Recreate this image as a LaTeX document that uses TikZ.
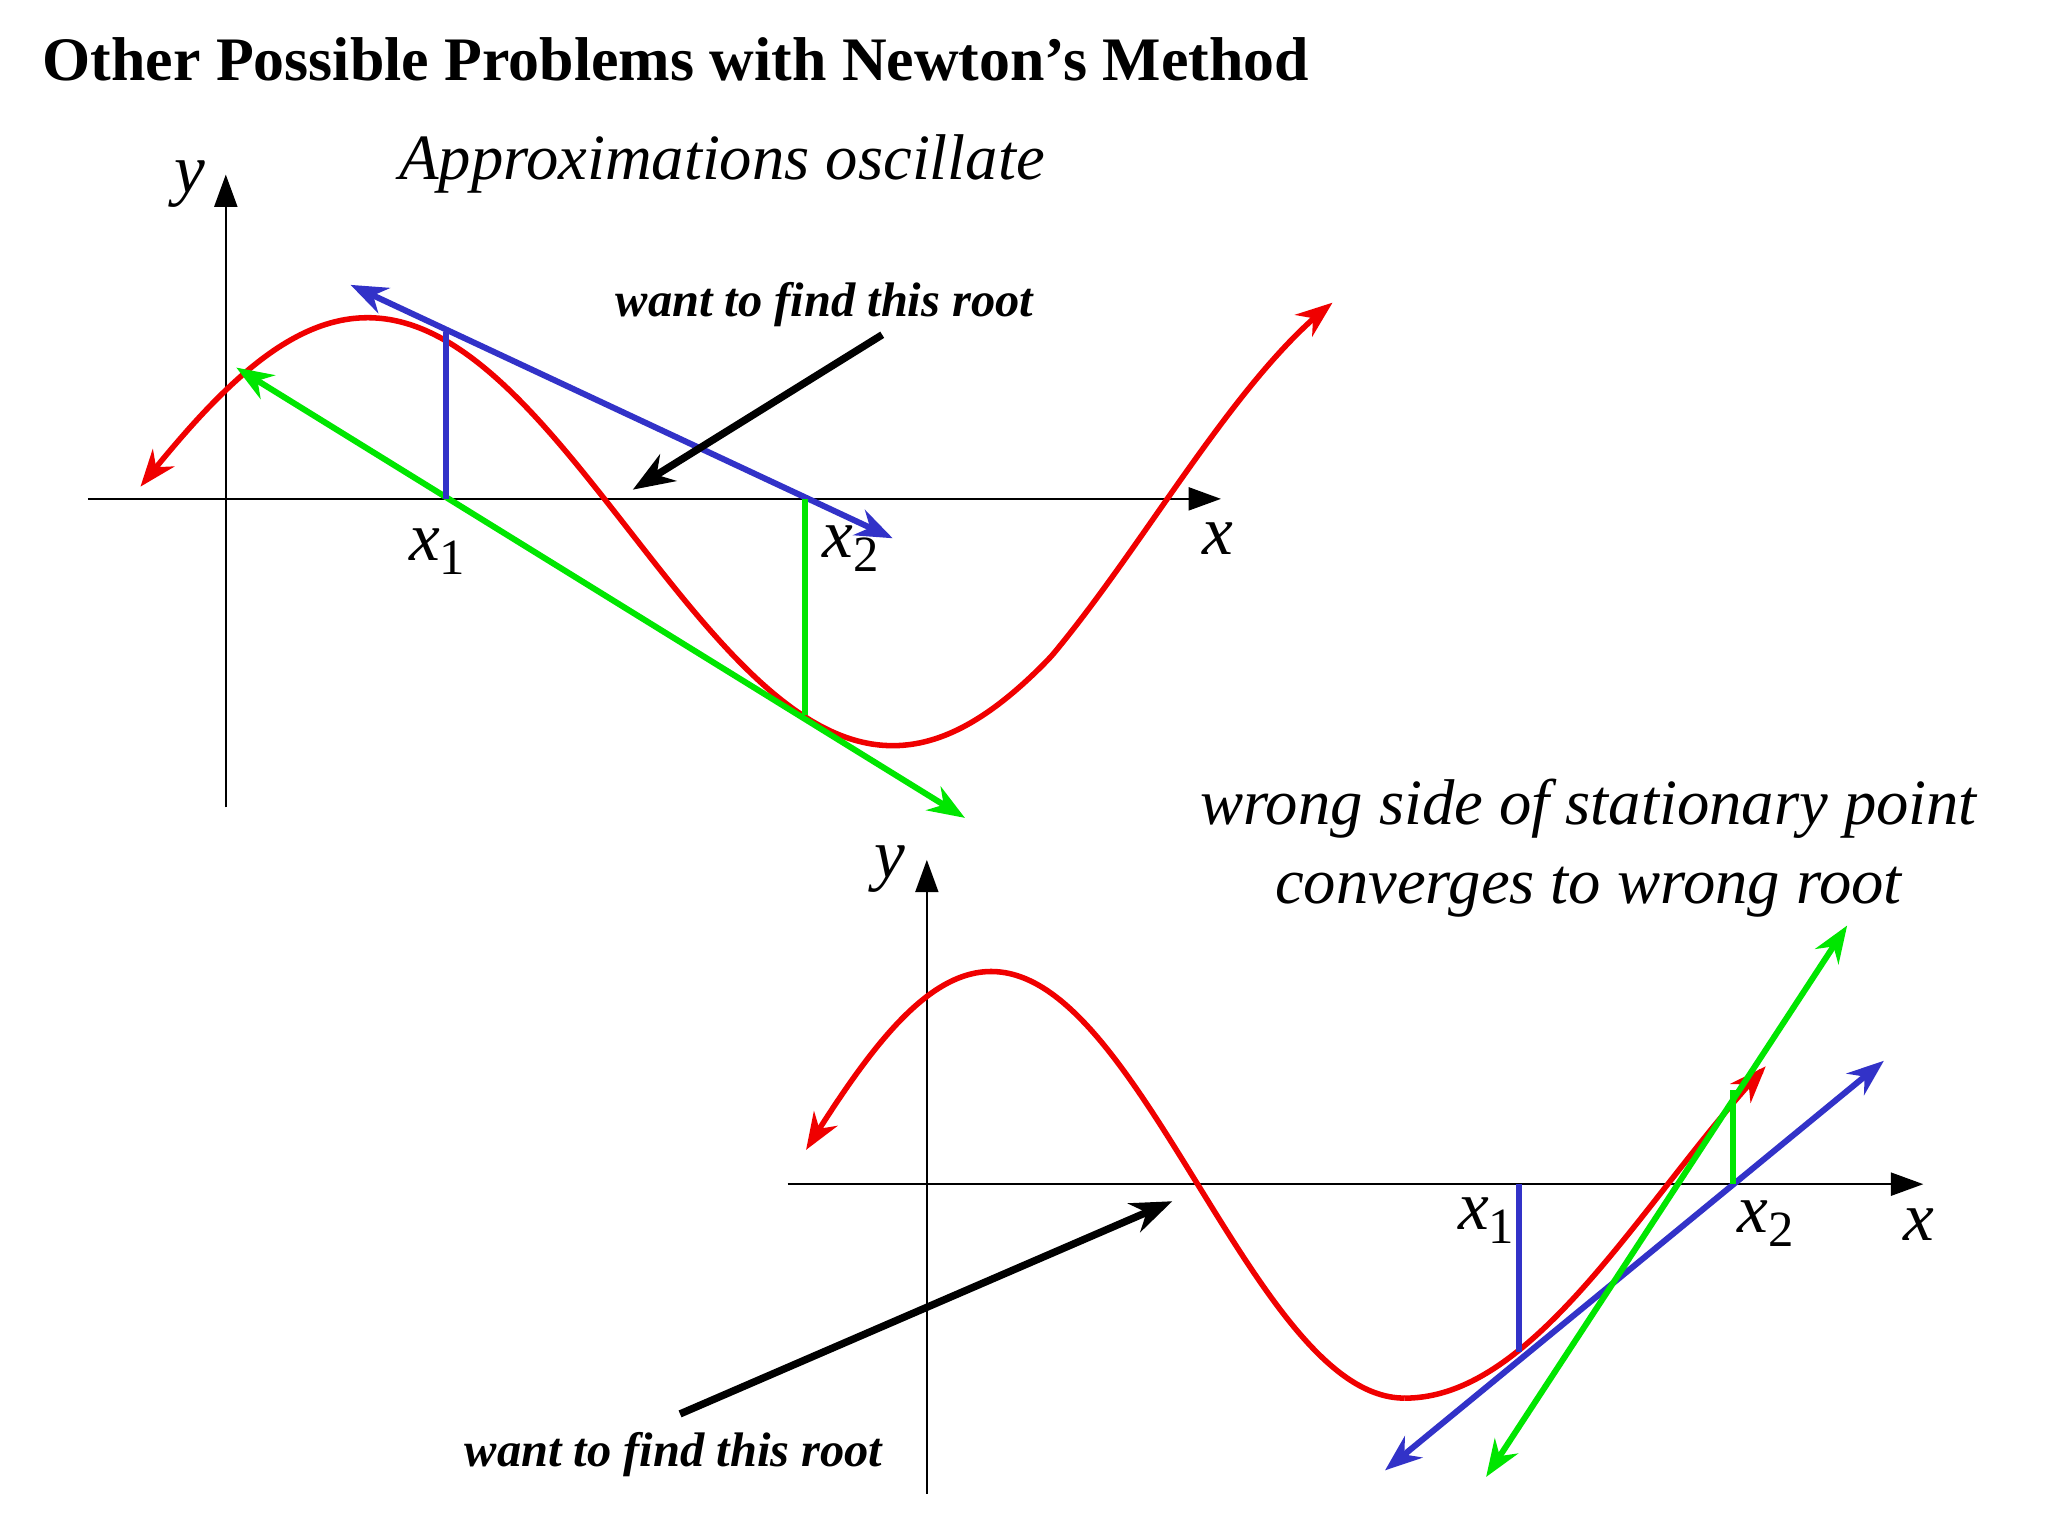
\documentclass[tikz,border=0pt]{standalone}
\usepackage{fontspec}
\setmainfont{Liberation Serif}
\usetikzlibrary{arrows.meta}
\definecolor{cred}{RGB}{240,0,0}
\definecolor{cblue}{RGB}{50,50,200}
\definecolor{cgreen}{RGB}{0,230,0}
\tikzset{
 ax/.style={black,thin,-{Triangle[length=7pt,width=5pt]}},
 crv/.style={cred,line width=1.2pt,{Stealth[length=8pt]}-{Stealth[length=8pt]}},
 tb/.style={cblue,line width=1.3pt,{Stealth[length=8pt]}-{Stealth[length=8pt]}},
 tg/.style={cgreen,line width=1.3pt,{Stealth[length=8pt]}-{Stealth[length=8pt]}},
 vb/.style={cblue,line width=1.3pt},
 vg/.style={cgreen,line width=1.3pt},
 lab/.style={font=\fontsize{15}{15}\selectfont\itshape},
 note/.style={font=\fontsize{10.5}{12}\selectfont\bfseries\itshape},
 big/.style={font=\fontsize{14}{17}\selectfont\itshape},
 blk/.style={black,line width=1.6pt,-{Stealth[length=9pt]}}
}
\newcommand{\xs}[1]{x\raisebox{-0.45ex}{\fontsize{11}{11}\selectfont\upshape #1}}
\begin{document}
\begin{tikzpicture}[x=0.01cm,y=-0.01cm]
\useasboundingbox[fill=white] (0,0) rectangle (1560,1170);
\node[anchor=west,font=\fontsize{13.4}{15}\selectfont\bfseries] (title) at (20,45) {Other Possible Problems with Newton’s Method};
% ---- top graph
\coordinate (ty0) at (172,615); \coordinate (ty1) at (172,133);
\coordinate (tx0) at (67,380); \coordinate (tx1) at (930,380);
\draw[ax] (ty0) -- (ty1);
\draw[ax] (tx0) -- (tx1);
\draw[crv,domain=107:1015,samples=120,smooth,variable=\t] plot ({\t},{405-163*cos(0.45*(\t-280))-0.15*max(\t-800,0)});
\coordinate (a1) at (340,253); \coordinate (b1) at (340,380);
\coordinate (a2) at (613,380); \coordinate (b2) at (613,545);
\coordinate (bl0) at (267,217); \coordinate (bl1) at (680,410);
\coordinate (gl0) at (180,280); \coordinate (gl1) at (735,623);
\draw[tb] (bl0) -- (bl1);
\draw[tg] (gl0) -- (gl1);
\draw[vb] (a1) -- (b1);
\draw[vg] (a2) -- (b2);
\node[lab] (tlx1) at (333,420) {\xs{1}};
\node[lab] (tlx2) at (648,418) {\xs{2}};
\node[lab] (tlx) at (928,410) {x};
\node[lab] (tly) at (145,140) {y};
\node[big] (ttl) at (550,125) {Approximations oscillate};
\node[note] (tn) at (628,232) {want to find this root};
\coordinate (ta0) at (672,255); \coordinate (ta1) at (482,373);
\draw[blk] (ta0) -- (ta1);
% ---- bottom graph
\coordinate (by0) at (706,1138); \coordinate (by1) at (706,655);
\coordinate (bx0) at (600,902); \coordinate (bx1) at (1465,902);
\draw[ax] (by0) -- (by1);
\draw[ax] (bx0) -- (bx1);
\draw[cred,line width=1.2pt,{Stealth[length=8pt]}-,domain=614:1070,samples=100,smooth,variable=\t] plot ({\t},{902.5-162.5*cos(0.5714*(\t-755))});
\draw[cred,line width=1.2pt,-{Stealth[length=8pt]},domain=1070:1345,samples=60,smooth,variable=\t] plot ({\t},{902.5+162.5*cos(0.45*(\t-1070))});
\coordinate (c1) at (1157,902); \coordinate (d1) at (1157,1030);
\coordinate (c2) at (1320,902); \coordinate (d2) at (1320,830);
\coordinate (bb0) at (1055,1120); \coordinate (bb1) at (1435,808);
\coordinate (bg0) at (1132,1125); \coordinate (bg1) at (1407,705);
\draw[tb] (bb0) -- (bb1);
\draw[tg] (bg0) -- (bg1);
\draw[vb] (c1) -- (d1);
\draw[vg] (c2) -- (d2);
\node[lab] (blx1) at (1132,930) {\xs{1}};
\node[lab] (blx2) at (1345,932) {\xs{2}};
\node[lab] (blx) at (1462,933) {x};
\node[lab] (bly) at (678,662) {y};
\node[big,align=center] (btl) at (1210,646) {wrong side of stationary point\\converges to wrong root};
\node[note] (bn) at (513,1108) {want to find this root};
\coordinate (ba0) at (518,1077); \coordinate (ba1) at (893,915);
\draw[blk] (ba0) -- (ba1);
\end{tikzpicture}
\end{document}
